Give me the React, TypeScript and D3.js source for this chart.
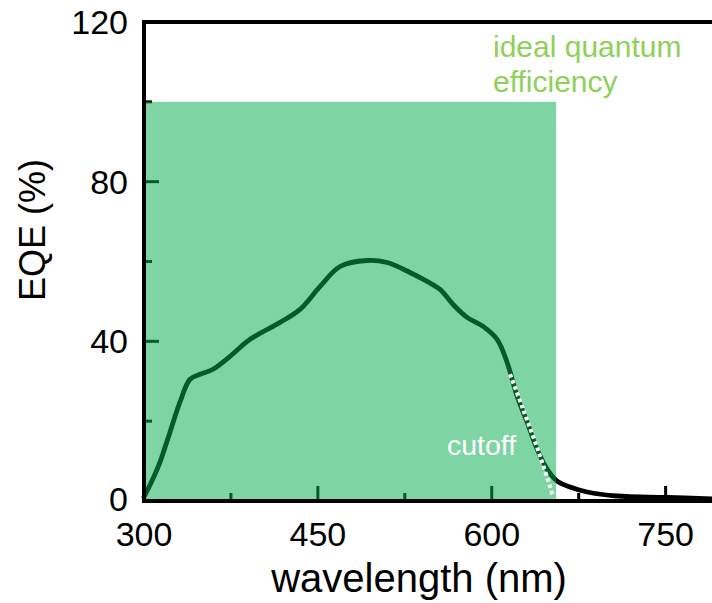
import React from "react";
import * as d3 from "d3";

// Measured external quantum efficiency spectrum: [wavelength nm, EQE %]
const eqeSpectrum: [number, number][] = [
  [300, 1], [306, 4.5], [313.8, 9.75], [322.4, 17.25], [331, 24.75],
  [339.7, 30.5], [348.3, 31.75], [359.5, 33], [374.2, 36.25], [391.5, 40.5],
  [417.4, 44.75], [434.6, 48], [451.9, 53.75], [469.1, 58.75], [492.4, 60.25],
  [509.7, 59.75], [529.5, 57.25], [544.2, 55], [555.4, 53], [566.6, 49.25],
  [578.7, 46], [592.5, 43.75], [604.6, 40.5], [613.2, 34.75], [621.9, 26.25],
  [630.5, 19.75], [639.1, 13], [647.7, 8], [656.4, 5], [667.6, 3.5],
  [682.3, 2.25], [708.1, 1.25], [751.3, 0.9], [790, 0.5],
];

// Extrapolated absorption edge toward the cutoff wavelength
const cutoffLine: [number, number][] = [
  [615.8, 31.75], [627, 23], [641.7, 11.25], [652.9, 1.25],
];

// Ideal quantum efficiency: 100 % up to the cutoff
const idealRange = { start: 300, end: 655.5, eqe: 100 };

const xMajorTicks = [300, 450, 600, 750];
const xMinorTicks = [375, 525, 675];
const yMajorTicks = [0, 40, 80, 120];
const yMinorTicks = [20, 60, 100];

const W = 712;
const H = 603;

export default function App() {
  const x = d3.scaleLinear().domain([300, 790]).range([144, 712]);
  const y = d3.scaleLinear().domain([0, 120]).range([501, 22]);

  const line = d3
    .line<[number, number]>()
    .x((d) => x(d[0]))
    .y((d) => y(d[1]))
    .curve(d3.curveCatmullRom.alpha(0.5));

  const font = "'Liberation Sans', Arial, sans-serif";
  const x0 = x(300);
  const y0 = y(0);

  return (
    <svg
      width={W}
      height={H}
      style={{ position: "fixed", left: 0, top: 0, background: "#fff" }}
      fontFamily={font}
    >
      {/* spectrum */}
      <path d={line(eqeSpectrum) ?? ""} fill="none" stroke="#000" strokeWidth={4.8} strokeLinecap="round" />

      {/* inward ticks */}
      <g stroke="#000" strokeWidth={3}>
        {xMajorTicks.map((t) => (
          <line key={"xM" + t} x1={x(t)} x2={x(t)} y1={y0} y2={y0 - 15} />
        ))}
        {xMinorTicks.map((t) => (
          <line key={"xm" + t} x1={x(t)} x2={x(t)} y1={y0} y2={y0 - 8} />
        ))}
        {yMajorTicks.map((t) => (
          <line key={"yM" + t} x1={x0} x2={x0 + 15} y1={y(t)} y2={y(t)} />
        ))}
        {yMinorTicks.map((t) => (
          <line key={"ym" + t} x1={x0} x2={x0 + 8} y1={y(t)} y2={y(t)} />
        ))}
      </g>

      {/* ideal quantum efficiency region */}
      <rect
        x={x(idealRange.start)}
        y={y(idealRange.eqe)}
        width={x(idealRange.end) - x(idealRange.start)}
        height={y(0) - y(idealRange.eqe)}
        fill="rgb(10,173,81)"
        fillOpacity={0.52}
      />

      {/* cutoff extrapolation */}
      <path
        d={line(cutoffLine) ?? ""}
        fill="none"
        stroke="#fff"
        strokeWidth={4}
        strokeDasharray="3.5 3"
      />

      {/* frame */}
      <g stroke="#000" strokeWidth={4} fill="none">
        <line x1={x0} x2={W} y1={y(120)} y2={y(120)} />
        <line x1={x0} x2={W} y1={y0} y2={y0} />
        <line x1={x0} x2={x0} y1={y(120) - 2} y2={y0 + 2} />
      </g>

      {/* tick labels */}
      <g fontSize={34} fill="#000">
        {xMajorTicks.map((t) => (
          <text key={"xl" + t} x={x(t)} y={546} textAnchor="middle">
            {t}
          </text>
        ))}
        {yMajorTicks.map((t) => (
          <text key={"yl" + t} x={128} y={y(t) + (t === 0 ? 10 : 12)} textAnchor="end">
            {t}
          </text>
        ))}
      </g>

      {/* axis titles */}
      <text x={419} y={592} fontSize={40} textAnchor="middle" fill="#000">
        wavelength (nm)
      </text>
      <text
        transform={`translate(45,230) rotate(-90)`}
        fontSize={36}
        textAnchor="middle"
        fill="#000"
      >
        EQE (%)
      </text>

      {/* annotations */}
      <g fontSize={30} fill="#8fd05a">
        <text x={493} y={57}>ideal quantum</text>
        <text x={493} y={92}>efficiency</text>
      </g>
      <text x={447} y={455} fontSize={28.5} fill="#fff">
        cutoff
      </text>
    </svg>
  );
}
